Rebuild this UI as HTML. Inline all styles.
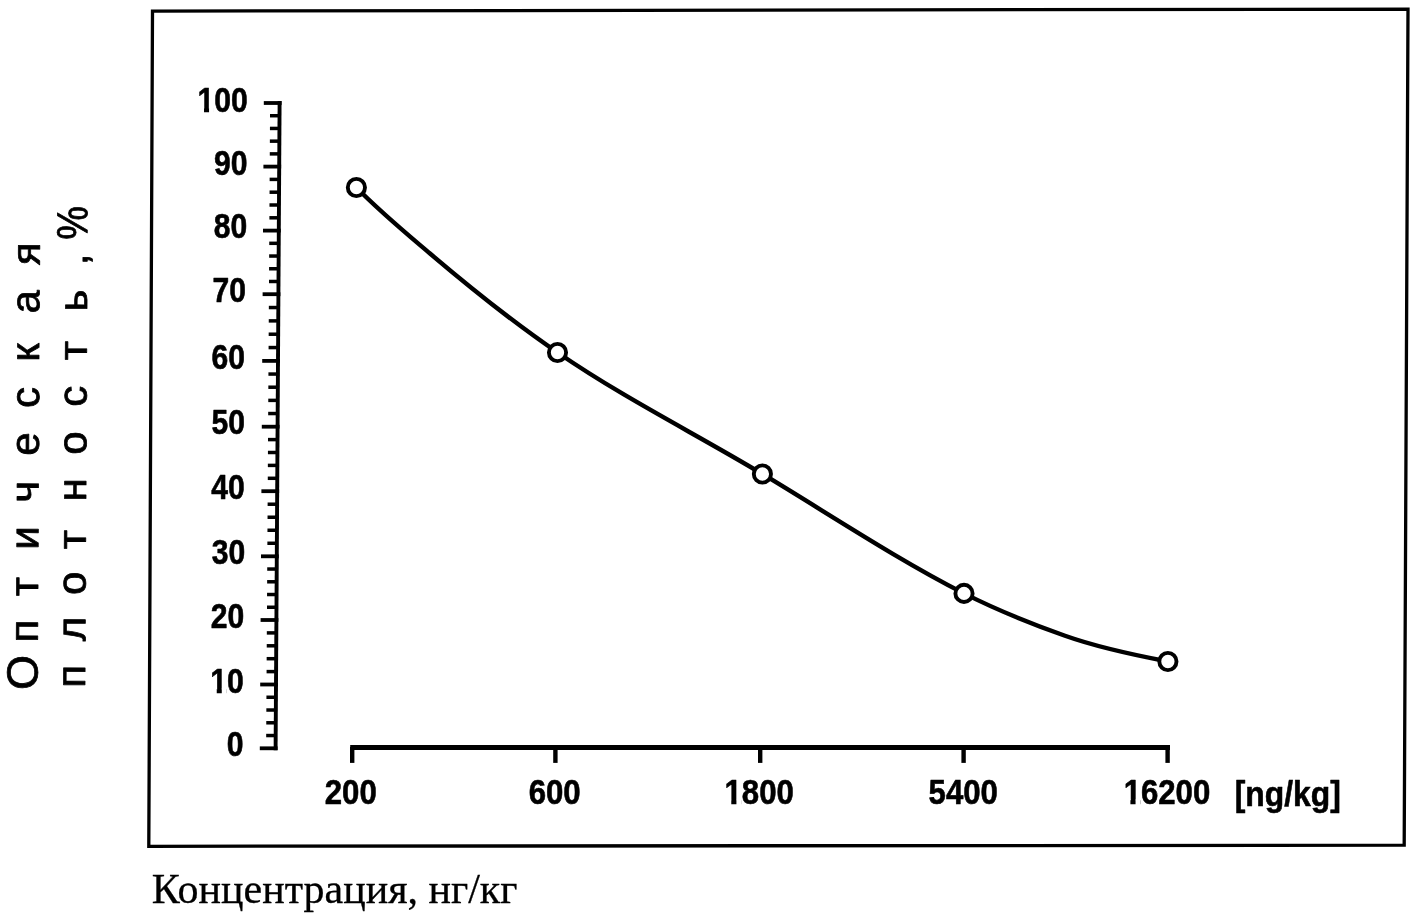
<!DOCTYPE html>
<html lang="ru">
<head>
<meta charset="utf-8">
<title>Оптическая плотность, % — Концентрация, нг/кг</title>
<style>
html,body{margin:0;padding:0;background:#fff;}
body{width:1416px;height:914px;overflow:hidden;}
svg{display:block;}
.lab{font-family:"Liberation Sans",sans-serif;font-weight:bold;fill:#000;stroke:#000;stroke-linejoin:round;}
.ttl{font-family:"Liberation Sans",sans-serif;fill:#000;stroke:#000;stroke-linejoin:round;}
.cap{font-family:"Liberation Serif",serif;fill:#000;stroke:#000;}
.ln{stroke:#000;fill:none;}
</style>
</head>
<body>
<svg width="1416" height="914" viewBox="0 0 1416 914">
<rect x="0" y="0" width="1416" height="914" fill="#fff"/>
<polygon class="ln" stroke-width="3.3" stroke-linejoin="miter" points="152.5,11.1 1408,9.1 1404.2,845.2 148.8,846.3"/>
<g class="ln" stroke-linecap="butt">
<line x1="279.61" y1="101.1" x2="275.59" y2="750.3" stroke-width="3.9"/>
<line x1="263.8" y1="103" x2="281.55" y2="103" stroke-width="3.8"/>
<line x1="270.02" y1="115.72" x2="279.52" y2="115.72" stroke-width="3.5"/>
<line x1="269.94" y1="128.44" x2="279.44" y2="128.44" stroke-width="3.5"/>
<line x1="269.86" y1="141.16" x2="279.36" y2="141.16" stroke-width="3.5"/>
<line x1="269.78" y1="153.88" x2="279.28" y2="153.88" stroke-width="3.5"/>
<line x1="263.41" y1="166.6" x2="281.16" y2="166.6" stroke-width="3.8"/>
<line x1="269.63" y1="179.4" x2="279.13" y2="179.4" stroke-width="3.5"/>
<line x1="269.55" y1="192.2" x2="279.05" y2="192.2" stroke-width="3.5"/>
<line x1="269.47" y1="205" x2="278.97" y2="205" stroke-width="3.5"/>
<line x1="269.39" y1="217.8" x2="278.89" y2="217.8" stroke-width="3.5"/>
<line x1="263.01" y1="230.6" x2="280.76" y2="230.6" stroke-width="3.8"/>
<line x1="269.23" y1="243.32" x2="278.73" y2="243.32" stroke-width="3.5"/>
<line x1="269.15" y1="256.04" x2="278.65" y2="256.04" stroke-width="3.5"/>
<line x1="269.07" y1="268.76" x2="278.57" y2="268.76" stroke-width="3.5"/>
<line x1="268.99" y1="281.48" x2="278.49" y2="281.48" stroke-width="3.5"/>
<line x1="262.61" y1="294.2" x2="280.36" y2="294.2" stroke-width="3.8"/>
<line x1="268.83" y1="307.54" x2="278.33" y2="307.54" stroke-width="3.5"/>
<line x1="268.75" y1="320.88" x2="278.25" y2="320.88" stroke-width="3.5"/>
<line x1="268.67" y1="334.22" x2="278.17" y2="334.22" stroke-width="3.5"/>
<line x1="268.58" y1="347.56" x2="278.08" y2="347.56" stroke-width="3.5"/>
<line x1="262.2" y1="360.9" x2="279.95" y2="360.9" stroke-width="3.8"/>
<line x1="268.42" y1="374.06" x2="277.92" y2="374.06" stroke-width="3.5"/>
<line x1="268.34" y1="387.22" x2="277.84" y2="387.22" stroke-width="3.5"/>
<line x1="268.26" y1="400.38" x2="277.76" y2="400.38" stroke-width="3.5"/>
<line x1="268.17" y1="413.54" x2="277.67" y2="413.54" stroke-width="3.5"/>
<line x1="261.79" y1="426.7" x2="279.54" y2="426.7" stroke-width="3.8"/>
<line x1="268.01" y1="439.6" x2="277.51" y2="439.6" stroke-width="3.5"/>
<line x1="267.93" y1="452.5" x2="277.43" y2="452.5" stroke-width="3.5"/>
<line x1="267.85" y1="465.4" x2="277.35" y2="465.4" stroke-width="3.5"/>
<line x1="267.77" y1="478.3" x2="277.27" y2="478.3" stroke-width="3.5"/>
<line x1="261.39" y1="491.2" x2="279.14" y2="491.2" stroke-width="3.8"/>
<line x1="267.61" y1="504.22" x2="277.11" y2="504.22" stroke-width="3.5"/>
<line x1="267.53" y1="517.24" x2="277.03" y2="517.24" stroke-width="3.5"/>
<line x1="267.45" y1="530.26" x2="276.95" y2="530.26" stroke-width="3.5"/>
<line x1="267.37" y1="543.28" x2="276.87" y2="543.28" stroke-width="3.5"/>
<line x1="260.99" y1="556.3" x2="278.74" y2="556.3" stroke-width="3.8"/>
<line x1="267.21" y1="569.04" x2="276.71" y2="569.04" stroke-width="3.5"/>
<line x1="267.13" y1="581.78" x2="276.63" y2="581.78" stroke-width="3.5"/>
<line x1="267.05" y1="594.52" x2="276.55" y2="594.52" stroke-width="3.5"/>
<line x1="266.97" y1="607.26" x2="276.47" y2="607.26" stroke-width="3.5"/>
<line x1="260.59" y1="620" x2="278.34" y2="620" stroke-width="3.8"/>
<line x1="266.81" y1="632.9" x2="276.31" y2="632.9" stroke-width="3.5"/>
<line x1="266.73" y1="645.8" x2="276.23" y2="645.8" stroke-width="3.5"/>
<line x1="266.65" y1="658.7" x2="276.15" y2="658.7" stroke-width="3.5"/>
<line x1="266.57" y1="671.6" x2="276.07" y2="671.6" stroke-width="3.5"/>
<line x1="260.19" y1="684.5" x2="277.94" y2="684.5" stroke-width="3.8"/>
<line x1="266.42" y1="697.26" x2="275.92" y2="697.26" stroke-width="3.5"/>
<line x1="266.34" y1="710.02" x2="275.84" y2="710.02" stroke-width="3.5"/>
<line x1="266.26" y1="722.78" x2="275.76" y2="722.78" stroke-width="3.5"/>
<line x1="266.18" y1="735.54" x2="275.68" y2="735.54" stroke-width="3.5"/>
<line x1="259.8" y1="748.3" x2="277.55" y2="748.3" stroke-width="3.8"/>
<line x1="350.2" y1="747.6" x2="1170" y2="747.6" stroke-width="5"/>
<line x1="352.2" y1="747" x2="352.2" y2="762.9" stroke-width="4.4"/>
<line x1="555.4" y1="747" x2="555.4" y2="762.9" stroke-width="4.4"/>
<line x1="760.2" y1="747" x2="760.2" y2="762.9" stroke-width="4.4"/>
<line x1="963.6" y1="747" x2="963.6" y2="762.9" stroke-width="4.4"/>
<line x1="1167.6" y1="747" x2="1167.6" y2="762.9" stroke-width="4.4"/>
</g>
<path class="ln" stroke-width="4.4" stroke-linecap="round" d="M356.4,187.5 C380.93,212.52 405.47,232.69 430,253.53 C472.5,289.63 515,323.43 557.5,352.5 C625.8,399.22 694.1,432.94 762.4,474 C829.6,514.39 896.8,559.16 964,593.4 C997.67,610.55 1031.33,623.77 1065,635.78 C1099.3,648.01 1133.6,654.98 1167.9,661.5"/>
<circle cx="356.4" cy="187.5" r="8.6" fill="#fff" stroke="#000" stroke-width="3.9"/>
<circle cx="557.5" cy="352.5" r="8.6" fill="#fff" stroke="#000" stroke-width="3.9"/>
<circle cx="762.4" cy="474" r="8.6" fill="#fff" stroke="#000" stroke-width="3.9"/>
<circle cx="964" cy="593.4" r="8.6" fill="#fff" stroke="#000" stroke-width="3.9"/>
<circle cx="1167.9" cy="661.5" r="8.6" fill="#fff" stroke="#000" stroke-width="3.9"/>
<g class="lab" font-size="35" stroke-width="0.6">
<text transform="matrix(0.86 0 0 1 197.46 111.58)">100</text>
<text transform="matrix(0.86 0 0 1 213.9 174.53)">90</text>
<text transform="matrix(0.86 0 0 1 213.8 237.83)">80</text>
<text transform="matrix(0.86 0 0 1 212.45 302.38)">70</text>
<text transform="matrix(0.86 0 0 1 211.6 368.68)">60</text>
<text transform="matrix(0.86 0 0 1 211.58 434.43)">50</text>
<text transform="matrix(0.86 0 0 1 211.17 498.98)">40</text>
<text transform="matrix(0.86 0 0 1 211.68 564.13)">30</text>
<text transform="matrix(0.86 0 0 1 210.7 628.08)">20</text>
<text transform="matrix(0.86 0 0 1 210.18 692.68)">10</text>
<text transform="matrix(0.86 0 0 1 226.72 756.38)">0</text>
<text transform="matrix(0.89 0 0 1 324.8 803.83)">200</text>
<text transform="matrix(0.89 0 0 1 528.7 803.83)">600</text>
<text transform="matrix(0.89 0 0 1 724.51 804.03)">1800</text>
<text transform="matrix(0.89 0 0 1 928.58 803.63)">5400</text>
<text transform="matrix(0.89 0 0 1 1123.64 803.68)">16200</text>
<text transform="matrix(0.91 0 0 1 1234.75 805.62)">[ng/kg]</text>
</g>
<g fill="#fff" stroke="none">
<rect x="198.36" y="107.38" width="5.66" height="6.41"/>
<rect x="209.05" y="107.38" width="4.91" height="6.41"/>
<rect x="211.08" y="688.48" width="5.66" height="6.41"/>
<rect x="221.77" y="688.48" width="4.91" height="6.41"/>
<rect x="725.44" y="799.83" width="5.84" height="6.41"/>
<rect x="736.42" y="799.83" width="5.06" height="6.41"/>
<rect x="1124.57" y="799.48" width="5.84" height="6.41"/>
<rect x="1135.55" y="799.48" width="5.06" height="6.41"/>
</g>
<g class="ttl" font-size="42" stroke-width="0.8">
<text transform="translate(37.35 700) rotate(-89.7) scale(1 0.97)" x="9.92 57.62 103.86 150.19 197.2 244.22 292.02 338.17 386.58 434.73" y="0"><tspan font-size="45">О</tspan>птическая</text>
<text transform="translate(84.9 700) rotate(-89.7) scale(1 0.97)" x="12.22 58.72 105.07 150.76 198.42 245.22 293.22 339.66 388.62 434.74" y="0">плотность,</text>
<text transform="translate(87.32 239.78) rotate(-89.7) scale(0.86 0.99)" x="0" y="0" font-size="44">%</text>
</g>
<text class="cap" font-size="42" stroke-width="0.3" x="151.7" y="903">Концентрация, нг/кг</text>
</svg>
</body>
</html>
